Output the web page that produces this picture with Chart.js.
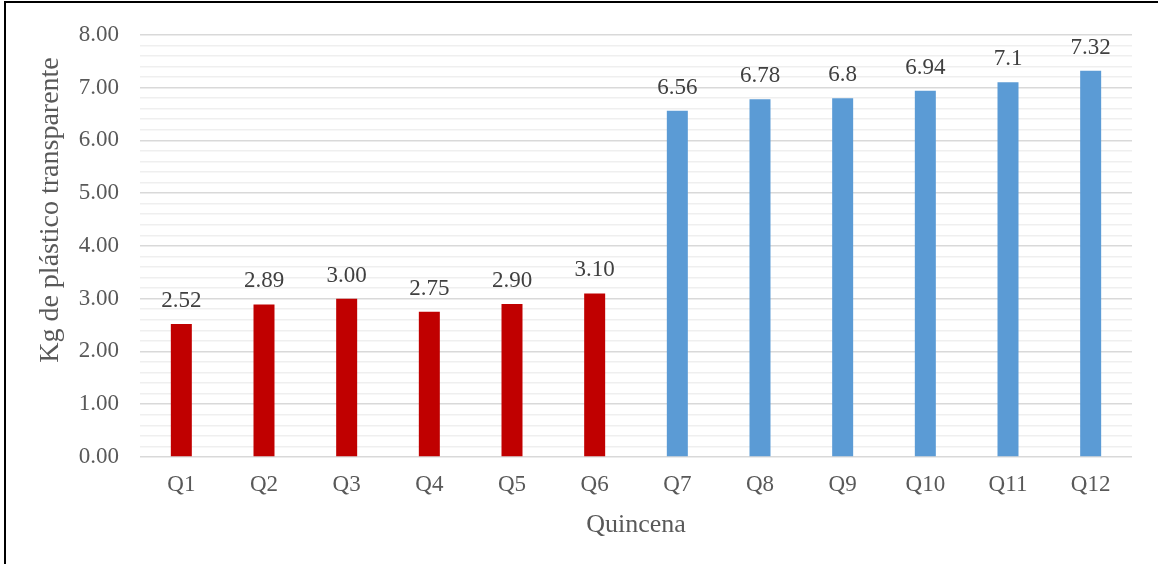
<!DOCTYPE html>
<html>
<head>
<meta charset="utf-8">
<script src="https://cdn.jsdelivr.net/npm/chart.js@4.4.1/dist/chart.umd.min.js"></script>
<style>
  html, body { margin: 0; padding: 0; background: #fff; }
  #wrap { position: relative; width: 1158px; height: 564px; overflow: hidden; }
  #frame {
    position: absolute; left: 4px; top: 1px; width: 1200px; height: 600px;
    border-left: 2px solid #000; border-top: 2px solid #000; pointer-events: none;
  }
</style>
</head>
<body>
<div id="wrap">
  <canvas id="kg-chart"></canvas>
  <div id="frame"></div>
</div>
<script>
const quincenas = ['Q1', 'Q2', 'Q3', 'Q4', 'Q5', 'Q6', 'Q7', 'Q8', 'Q9', 'Q10', 'Q11', 'Q12']
const kgValues = [2.52, 2.89, 3.00, 2.75, 2.90, 3.10, 6.56, 6.78, 6.8, 6.94, 7.1, 7.32]
const labelDecimals = [2, 2, 2, 2, 2, 2, 2, 2, 1, 2, 1, 2]
const firstPhaseCount = 6
const yTicks = { min: 0, max: 8, step: 0.2 }

const SERIF = "'Liberation Serif', 'Times New Roman', serif"
const RED = '#C00000'
const BLUE = '#5B9BD5'

const isMajor = (v) => Math.abs(v - Math.round(v)) < 1e-6

// value labels above each bar
const barValueLabels = {
  id: 'barValueLabels',
  afterDatasetsDraw(chart) {
    const { ctx } = chart
    const meta = chart.getDatasetMeta(0)
    ctx.save()
    ctx.font = `23px ${SERIF}`
    ctx.fillStyle = '#404040'
    ctx.textAlign = 'center'
    ctx.textBaseline = 'alphabetic'
    meta.data.forEach((bar, i) => {
      const text = kgValues[i].toFixed(labelDecimals[i])
      ctx.fillText(text, bar.x, bar.y - 17)
    })
    ctx.restore()
  }
}

// y axis title sits a bit above the plot centre
const yAxisTitle = {
  id: 'yAxisTitle',
  afterDraw(chart) {
    const { ctx } = chart
    ctx.save()
    ctx.translate(51, 210)
    ctx.rotate(-Math.PI / 2)
    ctx.font = `28px ${SERIF}`
    ctx.fillStyle = '#595959'
    ctx.textAlign = 'center'
    ctx.textBaseline = 'middle'
    ctx.fillText('Kg de plástico transparente', 0, 0)
    ctx.restore()
  }
}

new Chart(document.getElementById('kg-chart'), {
  type: 'bar',
  data: {
    labels: quincenas,
    datasets: [{
      label: 'Kg',
      data: kgValues,
      backgroundColor: (c) => c.dataIndex < firstPhaseCount ? RED : BLUE,
      borderWidth: 0,
      barPercentage: 0.254,
      categoryPercentage: 1,
    }]
  },
  options: {
    responsive: true,
    maintainAspectRatio: false,
    animation: false,
    layout: { padding: { left: 0, right: 26, top: 32, bottom: 0 } },
    plugins: {
      legend: { display: false },
      tooltip: { enabled: false }
    },
    scales: {
      x: {
        afterFit: (s) => { s.height = 564 - 457 },
        grid: { display: false, drawTicks: false },
        border: { display: false },
        ticks: {
          color: '#595959',
          padding: 14,
          font: { family: SERIF, size: 23 },
        },
        title: {
          display: true,
          text: 'Quincena',
          color: '#595959',
          font: { family: SERIF, size: 26 },
          padding: { top: 0, bottom: 23 },
        }
      },
      y: {
        min: yTicks.min,
        max: yTicks.max,
        afterFit: (s) => { s.width = 140 },
        border: { display: false },
        grid: {
          drawTicks: false,
          color: (c) => isMajor(c.tick.value) ? '#D9D9D9' : '#EFEFEF',
          lineWidth: 1.5,
        },
        ticks: {
          stepSize: yTicks.step,
          autoSkip: false,
          padding: 21,
          color: '#595959',
          font: { family: SERIF, size: 23 },
          callback: (v) => isMajor(v) ? Number(v).toFixed(2) : ''
        }
      }
    }
  },
  plugins: [barValueLabels, yAxisTitle]
})
</script>
</body>
</html>
